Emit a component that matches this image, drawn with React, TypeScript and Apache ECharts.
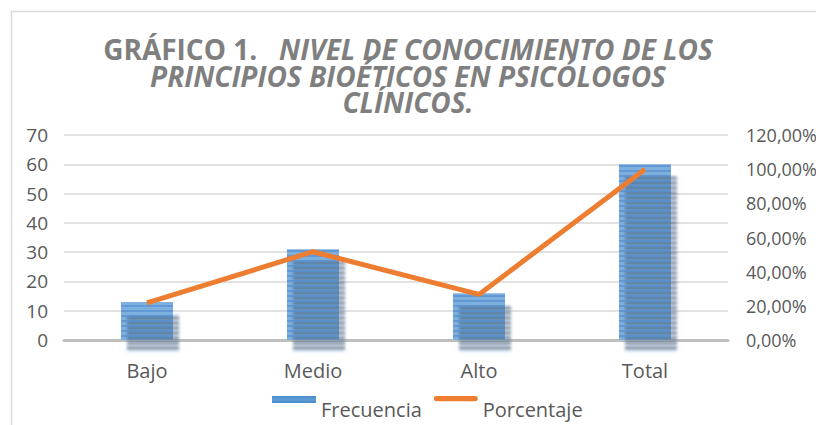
import React, { useEffect, useRef } from "react";
import * as echarts from "echarts";

const categories = ["Bajo", "Medio", "Alto", "Total"];
const frecuencia = [13, 31, 16, 60];
const porcentaje = [21.67, 51.67, 26.67, 100];
const leftTicks = { min: 0, max: 70, interval: 10 };
const rightTicks = { min: 0, max: 120, interval: 20 };

const FONT = "'Open Sans', 'Noto Sans', sans-serif";
const GRAY = "#595959";

export default function App() {
  const ref = useRef<HTMLDivElement>(null);
  useEffect(() => {
    if (!ref.current) return;
    const chart = echarts.init(ref.current, undefined, { renderer: "svg" });
    const titleStyle = { fontFamily: FONT, color: "#7f7f7f", fontSize: 28, fontWeight: "bold", lineHeight: 26.5 };
    chart.setOption({
      animation: false,
      backgroundColor: "#ffffff",
      textStyle: { fontFamily: FONT },
      graphic: [
        {
          type: "rect",
          shape: { x: 11.5, y: 11.5, width: 830, height: 440 },
          style: { fill: "none", stroke: "#d9d9d9", lineWidth: 1.5 },
          silent: true,
        },
      ],
      title: {
        left: "center",
        top: 36,
        padding: 0,
        text:
          "{a|GRÁFICO 1.}   {b|NIVEL DE CONOCIMIENTO DE LOS}\n{b|PRINCIPIOS BIOÉTICOS EN PSICÓLOGOS}\n{b|CLÍNICOS.}",
        textStyle: {
          ...titleStyle,
          rich: {
            a: { ...titleStyle },
            b: { ...titleStyle, fontStyle: "italic" },
          },
        },
      },
      legend: {
        top: 396,
        left: 272,
        padding: 0,
        itemGap: 12,
        itemWidth: 44,
        itemHeight: 26,
        symbolKeepAspect: false,
        textStyle: { fontFamily: FONT, fontSize: 20, color: GRAY },
        data: [
          { name: "Frecuencia", icon: "path://M0,0H44V7H0Z M0,25.9H0.1V26H0Z", itemStyle: { color: "#5b9bd5" } },
          {
            name: "Porcentaje",
            icon: "path://M2.5,1H41.5A2.5,2.5 0 0 1 41.5,6H2.5A2.5,2.5 0 0 1 2.5,1Z M0,25.9H0.1V26H0Z",
            itemStyle: { color: "#ed7d31" },
          },
        ],
      },
      grid: { left: 64, right: 88, top: 135, bottom: 85, containLabel: false, outerBoundsMode: "none" },
      xAxis: {
        type: "category",
        data: categories,
        axisTick: { show: false },
        axisLine: { lineStyle: { color: "#bfbfbf", width: 3 } },
        axisLabel: { fontFamily: FONT, fontSize: 20, color: GRAY, margin: 20 },
      },
      yAxis: [
        {
          type: "value",
          ...leftTicks,
          axisLine: { show: false },
          axisTick: { show: false },
          splitLine: { lineStyle: { color: "#d9d9d9", width: 1.5 } },
          axisLabel: { fontFamily: FONT, fontSize: 19, color: GRAY, margin: 16 },
        },
        {
          type: "value",
          ...rightTicks,
          axisLine: { show: false },
          axisTick: { show: false },
          splitLine: { show: false },
          axisLabel: {
            fontFamily: FONT,
            fontSize: 18,
            color: GRAY,
            margin: 18,
            formatter: (v: number) => v.toFixed(2).replace(".", ",") + "%",
          },
        },
      ],
      series: [
        {
          name: "Frecuencia",
          type: "bar",
          data: frecuencia,
          barWidth: 52,
          yAxisIndex: 0,
          itemStyle: {
            color: "#7eb0df",
            shadowColor: "rgba(130,175,225,0.35)",
            shadowOffsetX: 6,
            shadowOffsetY: 12,
            shadowBlur: 3,
            decal: {
              symbol: "rect",
              symbolSize: 1,
              dashArrayX: [[1, 0]],
              dashArrayY: [2, 3],
              color: "rgba(70,130,200,0.5)",
            },
          },
        },
        {
          name: "Porcentaje",
          type: "line",
          data: porcentaje,
          yAxisIndex: 1,
          symbol: "none",
          lineStyle: { color: "#ed7d31", width: 5 },
          itemStyle: { color: "#ed7d31" },
        },
      ],
    });
    return () => chart.dispose();
  }, []);
  return (
    <div
      ref={ref}
      style={{ position: "fixed", left: 0, top: 0, width: 816, height: 425 }}
    />
  );
}
